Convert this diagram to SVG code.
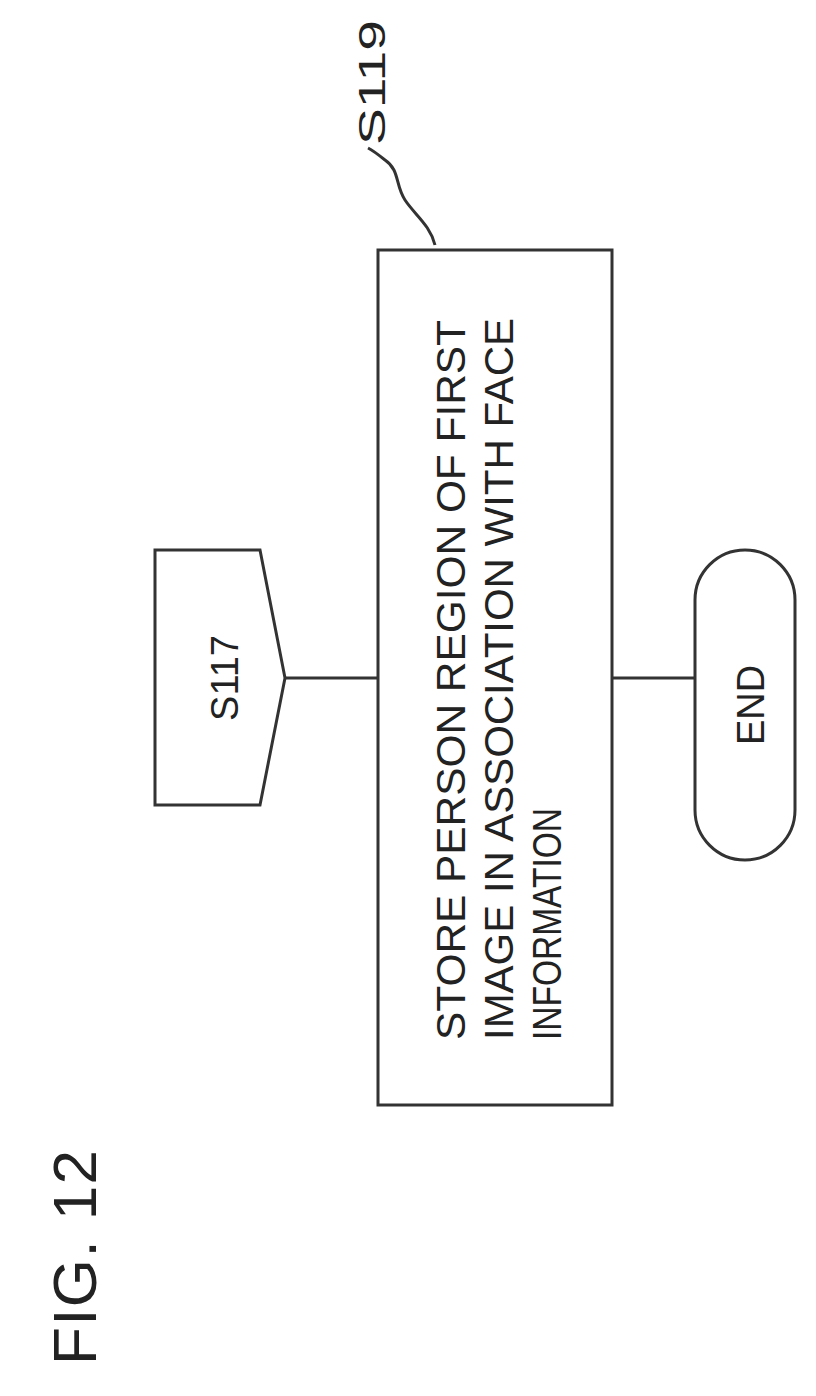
<svg xmlns="http://www.w3.org/2000/svg" width="816" height="1396" viewBox="0 0 816 1396">
<style>
.s{fill:none;stroke:#333;stroke-width:3}
.t{font-family:"Liberation Sans",Arial,sans-serif;fill:#222}
</style>
<rect width="816" height="1396" fill="#fff"/>
<text class="t" font-size="62" textLength="215" transform="translate(96,1365) rotate(-90)">FIG. 12</text>
<g id="connectors">
<line class="s" x1="285" y1="678" x2="378" y2="678"/>
<line class="s" x1="612" y1="678" x2="695" y2="678"/>
<path class="s" d="M435,245 C430,225 415,215 405,200 C395,185 400,170 385,160 C375,152 372,150 368,148" stroke-width="2"/>
</g>
<g id="S117">
<path class="s" d="M155,550 H260 L285,678 L260,805 H155 Z"/>
<text class="t" font-size="38" text-anchor="middle" transform="translate(238,678) rotate(-90)">S117</text>
</g>
<g id="S119">
<rect class="s" x="378" y="250" width="234" height="855"/>
<text class="t" font-size="40" textLength="720" lengthAdjust="spacingAndGlyphs" transform="translate(465,1040) rotate(-90)">STORE PERSON REGION OF FIRST</text>
<text class="t" font-size="40" textLength="722" lengthAdjust="spacingAndGlyphs" transform="translate(513,1040) rotate(-90)">IMAGE IN ASSOCIATION WITH FACE</text>
<text class="t" font-size="40" textLength="232" lengthAdjust="spacingAndGlyphs" transform="translate(561,1040) rotate(-90)">INFORMATION</text>
<text class="t" font-size="36" textLength="125" lengthAdjust="spacingAndGlyphs" transform="translate(385,145) rotate(-90)">S119</text>
</g>
<g id="END">
<rect class="s" x="695" y="550" width="100" height="310" rx="50"/>
<text class="t" font-size="38" text-anchor="middle" transform="translate(764,705) rotate(-90)">END</text>
</g>
</svg>
